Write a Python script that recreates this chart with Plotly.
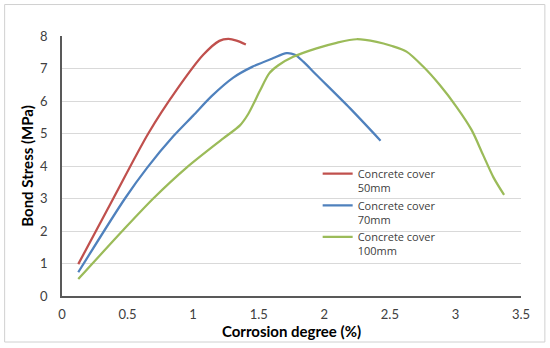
import plotly.graph_objects as go

red_x = [0.124, 0.391, 0.658, 0.874, 1.077, 1.20, 1.268, 1.331, 1.402]
red_y = [0.98, 3.00, 5.00, 6.34, 7.42, 7.85, 7.91, 7.86, 7.74]

blue_x = [0.124, 0.48, 0.65, 0.85, 1.0, 1.141, 1.306, 1.45, 1.60, 1.713, 1.776, 1.84, 1.941, 2.195, 2.429]
blue_y = [0.73, 3.00, 3.95, 4.92, 5.55, 6.15, 6.72, 7.05, 7.30, 7.47, 7.42, 7.21, 6.80, 5.78, 4.78]

green_x = [0.124, 0.467, 0.696, 0.95, 1.23, 1.357, 1.42, 1.51, 1.58, 1.65, 1.763, 1.941, 2.094, 2.246, 2.399, 2.51, 2.627, 2.754, 2.881, 3.008, 3.123, 3.21, 3.29, 3.371]
green_y = [0.52, 2.03, 3.00, 3.95, 4.85, 5.25, 5.60, 6.32, 6.85, 7.10, 7.36, 7.62, 7.79, 7.90, 7.82, 7.70, 7.52, 7.06, 6.49, 5.82, 5.11, 4.35, 3.65, 3.11]

names = ["Concrete cover<br>50mm", "Concrete cover<br>70mm", "Concrete cover<br>100mm"]
colors = ["#C0504D", "#4F81BD", "#9BBB59"]

x_ticks = [0, 0.5, 1, 1.5, 2, 2.5, 3, 3.5]
y_ticks = [0, 1, 2, 3, 4, 5, 6, 7, 8]

font = "Lato, Open Sans, sans-serif"

fig = go.Figure()
for xs, ys, nm, c in zip([red_x, blue_x, green_x], [red_y, blue_y, green_y], names, colors):
    fig.add_trace(go.Scatter(x=xs, y=ys, mode="lines", name=nm,
                             line=dict(color=c, width=2.25, shape="spline", smoothing=0.8)))

fig.update_layout(
    width=550, height=348,
    margin=dict(l=62, r=29, t=36, b=52),
    paper_bgcolor="white", plot_bgcolor="white",
    font=dict(family=font, size=13, color="#404040"),
    showlegend=True,
    legend=dict(x=0.557, y=0.523, xanchor="left", yanchor="top",
                bgcolor="rgba(0,0,0,0)", font=dict(family="Open Sans", size=11, color="#404040"),
                itemwidth=30, tracegroupgap=0, valign="top"),
    xaxis=dict(range=[0, 3.5], tickvals=x_ticks, showgrid=False, zeroline=False,
               showline=True, linecolor="#595959", linewidth=1.5,
               ticks="outside", ticklen=6, tickcolor="rgba(0,0,0,0)",
               automargin=False,
               title=dict(text="<b>Corrosion degree (%)</b>", font=dict(size=15, color="#000000"), standoff=4)),
    yaxis=dict(range=[0, 8], tickvals=y_ticks, showgrid=True, gridcolor="#D9D9D9", gridwidth=1,
               zeroline=False, showline=True, linecolor="#595959", linewidth=1.5,
               ticks="outside", ticklen=10, tickcolor="rgba(0,0,0,0)",
               automargin=False,
               title=dict(text="<b>Bond Stress (MPa)</b>", font=dict(size=15, color="#000000"), standoff=3)),
    shapes=[dict(type="rect", xref="paper", yref="paper", x0=-0.125, x1=1.052, y0=-0.177, y1=1.121,
                 line=dict(color="#D0D0D0", width=1), layer="above")],
)

fig.write_html("out.html", config={"displayModeBar": False},
               post_script="document.body.style.margin='0';document.body.style.overflow='hidden';")
